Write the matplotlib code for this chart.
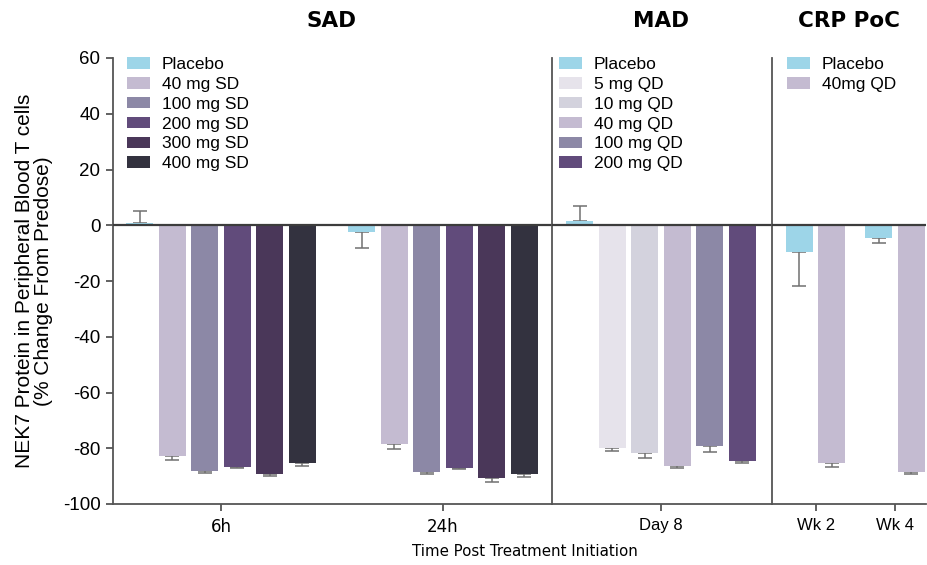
import matplotlib.pyplot as plt
import numpy as np

plt.rcParams['font.family'] = 'Liberation Sans'
plt.rcParams['axes.unicode_minus'] = False

# --- data ---
sad_labels = ["Placebo", "40 mg SD", "100 mg SD", "200 mg SD", "300 mg SD", "400 mg SD"]
sad_6h = [0.7, -82.7, -88.0, -86.7, -89.1, -85.3]
sad_6h_err = [4.5, 1.5, 0.8, 0.5, 0.9, 1.1]
sad_24h = [-2.3, -78.6, -88.6, -87.0, -90.6, -89.3]
sad_24h_err = [5.7, 1.8, 0.7, 0.5, 1.4, 0.9]

mad_labels = ["Placebo", "5 mg QD", "10 mg QD", "40 mg QD", "100 mg QD", "200 mg QD"]
mad_day8 = [1.7, -79.8, -81.8, -86.3, -79.1, -84.5]
mad_day8_err = [5.2, 1.3, 1.7, 0.8, 2.4, 0.9]

crp_labels = ["Placebo", "40mg QD"]
crp_wk2 = [-9.7, -85.4]
crp_wk2_err = [12.1, 1.4]
crp_wk4 = [-4.4, -88.4]
crp_wk4_err = [2.1, 0.7]

sad_colors = ['#9dd5e8', '#c4bbd1', '#8c88a6', '#614b7b', '#4a3759', '#33323f']
mad_colors = ['#9dd5e8', '#e6e3eb', '#d3d2dd', '#c4bbd1', '#8c88a6', '#614b7b']
crp_colors = ['#9dd5e8', '#c4bbd1']

# --- layout (pixels) ---
W, H = 927, 565
TOP, BOT = 58, 504
PITCH = 32.5
BAR_W = 0.83
SPINE = '#555555'

fig = plt.figure(figsize=(W / 100, H / 100), dpi=100)


def px_axes(x0, x1):
    return fig.add_axes([x0 / W, 1 - BOT / H, (x1 - x0) / W, (BOT - TOP) / H])


def draw_group(ax, center, values, errs, colors):
    n = len(values)
    x = center + np.arange(n) - (n - 1) / 2
    v = np.array(values)
    e = np.array(errs)
    lower = np.where(v < 0, e, 0)
    upper = np.where(v >= 0, e, 0)
    ax.errorbar(x, v, yerr=[lower, upper], fmt='none', ecolor='#707070',
                elinewidth=1.1, capsize=4.7, capthick=1.1, zorder=2)
    return ax.bar(x, v, width=BAR_W, color=colors, zorder=3)


def setup(ax, x0, x1, centers_px, ticklabels, tickfont, first=False):
    ref = centers_px[0]
    ax.set_xlim((x0 - ref) / PITCH, (x1 - ref) / PITCH)
    ax.set_ylim(-100, 60)
    ax.set_yticks(range(-100, 61, 20))
    for s in ['top', 'right']:
        ax.spines[s].set_visible(False)
    for s in ['left', 'bottom']:
        ax.spines[s].set_color(SPINE)
        ax.spines[s].set_linewidth(1.3)
    ax.axhline(0, color='#3c3c3c', lw=1.6, zorder=4)
    ax.set_xticks([(c - ref) / PITCH for c in centers_px])
    ax.set_xticklabels(ticklabels, family=tickfont, fontsize=12)
    ax.tick_params(axis='x', length=5, width=1.3, color=SPINE, pad=5)
    if first:
        ax.tick_params(axis='y', length=5, width=1.3, color=SPINE, labelsize=13.5, pad=4)
    else:
        ax.tick_params(axis='y', left=False, labelleft=False)
    return [(c - ref) / PITCH for c in centers_px]


def add_legend(ax, bars, labels, left_px):
    ax.legend(bars.patches, labels, loc='upper left', frameon=False,
              bbox_to_anchor=(left_px / W, 1 - 57 / H), bbox_transform=fig.transFigure,
              borderpad=0, borderaxespad=0, fontsize=12.5, handlelength=1.35,
              handleheight=0.65, handletextpad=0.65, labelspacing=0.28)


# SAD
ax1 = px_axes(113, 552)
c = setup(ax1, 113, 552, [221, 443], ['6h', '24h'], 'DejaVu Sans', first=True)
b = draw_group(ax1, c[0], sad_6h, sad_6h_err, sad_colors)
draw_group(ax1, c[1], sad_24h, sad_24h_err, sad_colors)
add_legend(ax1, b, sad_labels, 127)
ax1.set_ylabel('NEK7 Protein in Peripheral Blood T cells\n(% Change From Predose)',
               fontsize=15, labelpad=7, linespacing=1.0)

# MAD
ax2 = px_axes(552, 772)
c = setup(ax2, 552, 772, [661], ['Day 8'], 'Liberation Sans')
b = draw_group(ax2, c[0], mad_day8, mad_day8_err, mad_colors)
add_legend(ax2, b, mad_labels, 559)

# CRP PoC
ax3 = px_axes(772, 926)
c = setup(ax3, 772, 926, [815.7, 895], ['Wk 2', 'Wk 4'], 'Liberation Sans')
b = draw_group(ax3, c[0], crp_wk2, crp_wk2_err, crp_colors)
draw_group(ax3, c[1], crp_wk4, crp_wk4_err, crp_colors)
add_legend(ax3, b, crp_labels, 787)

for title, xc in [('SAD', 331), ('MAD', 661), ('CRP PoC', 849)]:
    fig.text(xc / W, 1 - 27 / H, title, ha='center', va='baseline',
             family='DejaVu Sans', fontweight='bold', fontsize=15.5)

fig.text(525 / W, 1 - 556 / H, 'Time Post Treatment Initiation', ha='center',
         va='baseline', family='DejaVu Sans', fontsize=10.8)

fig.savefig('out.png', dpi=100)
